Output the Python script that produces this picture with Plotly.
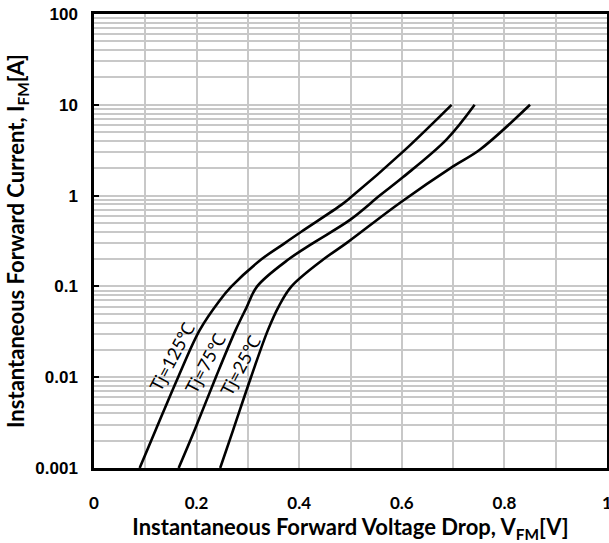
import plotly.graph_objects as go

# Tj = 125 C
v_125 = [0.089, 0.120, 0.164, 0.206, 0.245, 0.268, 0.327, 0.372, 0.404, 0.482, 0.500, 0.603, 0.697]
i_125 = [0.001, 0.0026, 0.01, 0.033, 0.07, 0.1, 0.2, 0.3, 0.4, 0.79, 0.95, 3.07, 10]

# Tj = 75 C
v_75 = [0.165, 0.196, 0.2375, 0.276, 0.297, 0.318, 0.380, 0.427, 0.499, 0.557, 0.6026, 0.687, 0.742]
i_75 = [0.001, 0.0026, 0.01, 0.033, 0.058, 0.1, 0.2, 0.3, 0.54, 1.0, 1.6, 4.13, 10]

# Tj = 25 C
v_25 = [0.246, 0.271, 0.306, 0.339, 0.360, 0.385, 0.448, 0.492, 0.596, 0.700, 0.752, 0.850]
i_25 = [0.001, 0.0026, 0.01, 0.033, 0.06, 0.1, 0.2, 0.30, 0.83, 2.1, 3.2, 10]

series_names = ["Tj=125℃", "Tj=75℃", "Tj=25℃"]
label_x = [0.152, 0.2156, 0.284]
label_logy = [-1.765, -1.853, -1.875]

y_tickvals = [0.001, 0.01, 0.1, 1, 10, 100]
y_ticktext = ["0.001", "0.01", "0.1", "1", "10", "100"]

fig = go.Figure()
for v, i, n in zip([v_125, v_75, v_25], [i_125, i_75, i_25], series_names):
    fig.add_trace(go.Scatter(x=v, y=i, mode="lines", name=n,
                             line=dict(color="black", width=2.6, shape="spline", smoothing=1.0),
                             showlegend=False, hoverinfo="skip"))

for n, lx, ly in zip(series_names, label_x, label_logy):
    fig.add_annotation(x=lx, y=ly, xref="x", yref="y", text=n, showarrow=False,
                       textangle=-62, font=dict(family="Lato", size=18, color="black"))

grid_col = "#c8c8c8"
fig.update_layout(
    width=609, height=543,
    margin=dict(l=94, r=2, t=14, b=75),
    paper_bgcolor="white", plot_bgcolor="white",
    xaxis=dict(range=[0, 1], tick0=0, dtick=0.2, showgrid=True, gridcolor=grid_col, gridwidth=1.5,
               minor=dict(dtick=0.1, showgrid=True, gridcolor=grid_col, gridwidth=1.5),
               showline=True, linecolor="black", linewidth=2.5, mirror=True,
               ticks="", zeroline=False, ticklabelstandoff=18, automargin=False,
               ticklabeloverflow="allow",
               tickfont=dict(family="Lato", size=17, color="black", weight="bold"),
               title=dict(text="Instantaneous Forward Voltage Drop, V<sub>FM</sub>[V]",
                          font=dict(family="Lato", size=22, color="black", weight="bold"),
                          standoff=3)),
    yaxis=dict(type="log", range=[-3, 2], tickvals=y_tickvals, ticktext=y_ticktext,
               showgrid=True, gridcolor=grid_col, gridwidth=1.5,
               minor=dict(dtick="D1", showgrid=True, gridcolor=grid_col, gridwidth=1.5, ticks=""),
               showline=True, linecolor="black", linewidth=2.5, mirror=True,
               ticks="inside", ticklen=5, tickwidth=1.5, tickcolor="black", zeroline=False,
               ticklabelstandoff=10, automargin=False,
               tickfont=dict(family="Liberation Sans", size=17, color="black", weight="bold"),
               title=dict(text="Instantaneous Forward Current, I<sub>FM</sub>[A]",
                          font=dict(family="Lato", size=22, color="black", weight="bold"),
                          standoff=5)),
)

fig.write_html("out.html", config={"displayModeBar": False},
               post_script="document.body.style.margin='0';document.body.style.overflow='hidden';")
